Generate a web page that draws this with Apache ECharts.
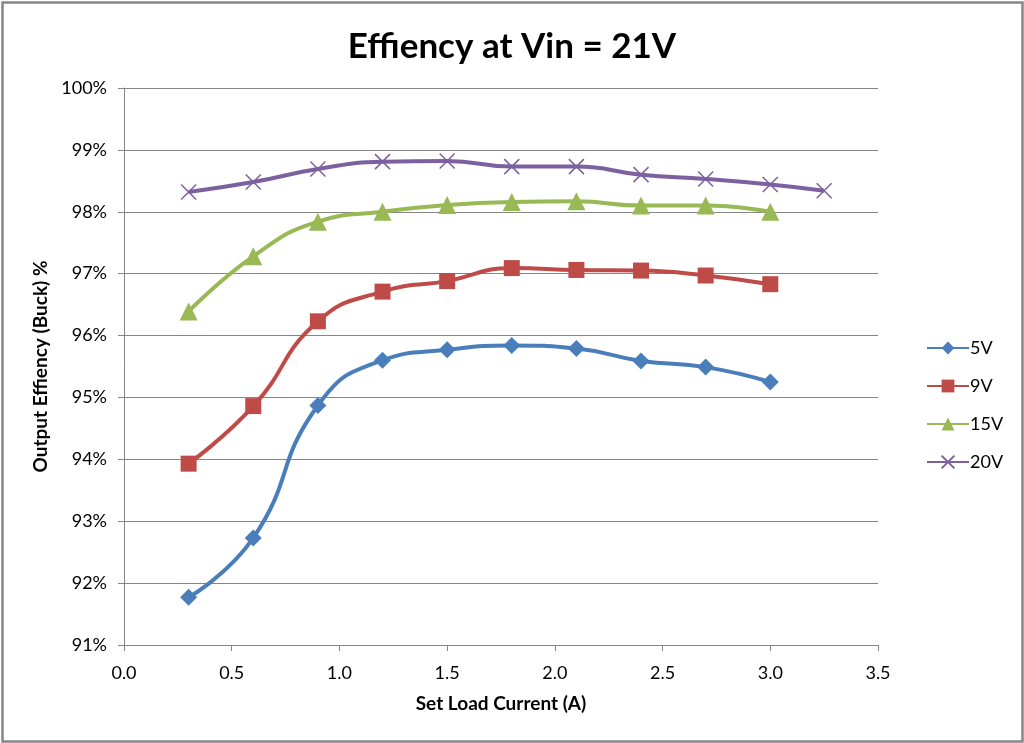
<!DOCTYPE html>
<html>
<head>
<meta charset="utf-8">
<script src="https://cdn.jsdelivr.net/npm/echarts@6/dist/echarts.min.js"></script>
<style>html,body{margin:0;padding:0;background:#fff}#c{width:1024px;height:743px}</style>
</head>
<body>
<div id="c"></div>
<script>
const xValues = [0.3, 0.6, 0.9, 1.2, 1.5, 1.8, 2.1, 2.4, 2.7, 3.0];
const xValues20V = [0.3, 0.6, 0.9, 1.2, 1.5, 1.8, 2.1, 2.4, 2.7, 3.0, 3.25];
const eff5V  = [91.77, 92.73, 94.87, 95.60, 95.77, 95.84, 95.79, 95.59, 95.49, 95.25];
const eff9V  = [93.93, 94.86, 96.23, 96.71, 96.88, 97.09, 97.06, 97.05, 96.97, 96.83];
const eff15V = [96.39, 97.28, 97.84, 98.00, 98.11, 98.16, 98.17, 98.10, 98.10, 98.00];
const eff20V = [98.32, 98.48, 98.69, 98.81, 98.82, 98.73, 98.73, 98.60, 98.53, 98.44, 98.34];
const seriesNames = ['5V', '9V', '15V', '20V'];
const titleText = 'Effiency at Vin = 21V';
const xAxisName = 'Set Load Current (A)';
const yAxisName = 'Output Effiency (Buck) %';

const pair = (xs, ys) => xs.map((x, i) => [x, ys[i]]);
const FONT = 'Lato, "Open Sans", sans-serif';
const GRID = '#868686';
const colors = ['#4A7EBB', '#BE4B48', '#98B954', '#7D60A0'];
const crossPath = 'path://M0,0 L10,10 M10,0 L0,10';

const chart = echarts.init(document.getElementById('c'), null, {renderer: 'canvas'});
const mk = (name, data, color, symbol, size, extra) => Object.assign({
  name, type: 'line', data, smooth: 0.5, color,
  symbol, symbolSize: size,
  lineStyle: {width: 4, color},
  itemStyle: {color},
  emphasis: {disabled: true}
}, extra || {});

chart.setOption({
  animation: false,
  backgroundColor: '#fff',
  title: {
    text: titleText, left: 'center', top: 24,
    textStyle: {fontFamily: FONT, fontSize: 35, fontWeight: 'bold', color: '#000'}
  },
  grid: {left: 124, right: 146, top: 88, bottom: 98, containLabel: false},
  legend: {
    orient: 'vertical', left: 921, top: 334,
    itemWidth: 42, itemHeight: 16, itemGap: 20,
    data: seriesNames,
    textStyle: {fontFamily: FONT, fontSize: 18, color: '#000', padding: [0, 0, 0, -4]}
  },
  xAxis: {
    type: 'value', min: 0, max: 3.5, interval: 0.5,
    name: xAxisName, nameLocation: 'middle', nameGap: 49,
    nameTextStyle: {fontFamily: FONT, fontSize: 19, fontWeight: 'bold', color: '#000'},
    axisLine: {show: true, lineStyle: {color: GRID, width: 1}},
    axisTick: {show: true, length: 6, lineStyle: {color: GRID}},
    axisLabel: {fontFamily: FONT, fontSize: 18, color: '#000', margin: 19,
      formatter: v => v.toFixed(1)},
    splitLine: {show: false}
  },
  yAxis: {
    type: 'value', min: 91, max: 100, interval: 1,
    name: yAxisName, nameLocation: 'middle', nameGap: 73, nameRotate: 90,
    nameTextStyle: {fontFamily: FONT, fontSize: 19, fontWeight: 'bold', color: '#000'},
    axisLine: {show: true, lineStyle: {color: GRID, width: 1}},
    axisTick: {show: true, length: 6, lineStyle: {color: GRID}},
    axisLabel: {fontFamily: FONT, fontSize: 18, color: '#000', margin: 17,
      formatter: v => v + '%'},
    splitLine: {show: true, lineStyle: {color: GRID, width: 1}}
  },
  graphic: [{
    type: 'rect', left: 0, top: 0, silent: true,
    shape: {x: 1, y: 1, width: 1020, height: 739},
    style: {fill: 'none', stroke: GRID, lineWidth: 2.5}
  }],
  series: [
    mk(seriesNames[0], pair(xValues, eff5V), colors[0], 'diamond', 17),
    mk(seriesNames[1], pair(xValues, eff9V), colors[1], 'rect', 16),
    mk(seriesNames[2], pair(xValues, eff15V), colors[2], 'triangle', 18),
    mk(seriesNames[3], pair(xValues20V, eff20V), colors[3], crossPath, 15,
      {itemStyle: {color: colors[3], borderColor: colors[3], borderWidth: 1.5}})
  ]
});
</script>
</body>
</html>
